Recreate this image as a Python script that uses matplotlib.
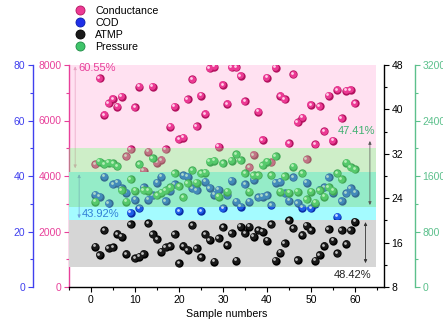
import matplotlib
matplotlib.use("Agg")
import matplotlib.pyplot as plt
from matplotlib.ticker import MultipleLocator
from matplotlib.transforms import offset_copy
from matplotlib.lines import Line2D
import numpy as np

plt.rcParams['font.family'] = ['Liberation Sans', 'DejaVu Sans']
plt.rcParams['font.size'] = 7.5

samples = list(range(1, 61))

conductance = [4430, 7520, 6200, 6620, 6775, 6500, 6860, 4720, 4960, 6475,
               7220, 4190, 4880, 7220, 4480, 4580, 4960, 5780, 6500, 5320,
               5380, 6760, 7495, 5800, 6895, 6235, 7880, 7940, 5060, 7280,
               6595, 7915, 7915, 7605, 6700, 4310, 4760, 6320, 5300, 7545,
               4500, 7905, 6885, 6765, 5180, 7675, 5935, 6100, 4600, 6560,
               5150, 6520, 5620, 6895, 5275, 7100, 6080, 7075, 7100, 6620]

cod = [33.2, 32.5, 39.7, 30.2, 37.1, 37.6, 35.6, 34.0, 26.8, 31.4,
       28.4, 36.0, 31.4, 33.0, 37.6, 39.7, 31.0, 34.7, 37.0, 27.4,
       40.2, 39.8, 35.5, 34.8, 27.4, 37.9, 35.7, 33.3, 35.0, 28.4,
       33.0, 38.3, 30.7, 29.0, 37.1, 30.7, 38.7, 32.3, 32.5, 33.0,
       29.4, 37.6, 37.9, 33.8, 31.1, 39.6, 30.3, 28.6, 37.6, 28.4,
       29.9, 35.0, 36.0, 39.6, 34.0, 25.3, 31.0, 33.8, 35.6, 34.0]

atmp = [15.27, 13.77, 18.27, 14.97, 15.15, 17.55, 17.07, 13.95, 19.35, 13.17,
        13.47, 13.95, 19.47, 17.49, 16.59, 14.37, 15.15, 15.39, 17.49, 12.27,
        15.39, 14.67, 19.17, 14.97, 13.35, 17.49, 16.47, 12.57, 16.77, 18.75,
        15.57, 17.67, 12.75, 18.87, 17.67, 18.87, 17.07, 18.27, 17.97, 16.35,
        19.35, 12.75, 14.19, 15.87, 20.07, 18.57, 12.87, 17.37, 19.05, 18.27,
        12.75, 13.77, 15.39, 18.39, 16.35, 14.07, 18.27, 15.75, 18.27, 19.77]

pressure = [1229, 1806, 1772, 1791, 1782, 1744, 1398, 1229, 1552, 1388,
            1772, 1398, 1388, 1854, 1326, 1359, 1398, 1437, 1638, 1450,
            1292, 1494, 1686, 1504, 1638, 1648, 1806, 1821, 1302, 1782,
            1374, 1821, 1917, 1830, 1638, 1374, 1614, 1614, 1758, 1806,
            1614, 1888, 1374, 1600, 1359, 1734, 1374, 1638, 1264, 1374,
            1215, 1398, 1302, 1437, 1388, 1638, 1552, 1791, 1724, 1696]

series_names = ['Conductance', 'COD', 'ATMP', 'Pressure']

# band limits (in each series' own units)
cond_band = (5000, 8000)
cod_band = (24.1, 41.5)
atmp_band = (11.66, 20.1)
press_band = (1160, 2000)
band_x = (-4.95, 64.7)

pct_labels = ['60.55%', '43.92%', '47.41%', '48.42%']

PINK = '#e8409a'
BLUE = '#4040ee'
GREEN = '#5cc08c'

W, H = 443, 324
fig = plt.figure(figsize=(W / 100, H / 100), dpi=100)
L, R, T, B = 69, 384, 65, 287
ax = fig.add_axes([L / W, 1 - B / H, (R - L) / W, (B - T) / H])
ax_c = ax.twinx()
ax_a = ax.twinx()
ax_p = ax.twinx()

ax.set_xlim(-5, 66.6)
ax.set_ylim(0, 8000)
ax_c.set_ylim(0, 80)
ax_a.set_ylim(8, 48)
ax_p.set_ylim(0, 3200)


def balls(a, x, y, base, dark, light, z=3):
    a.scatter(x, y, s=36, c=dark, linewidths=0, zorder=z)
    t1 = offset_copy(a.transData, fig=fig, x=-0.5, y=0.5, units='dots')
    a.scatter(x, y, s=24, c=base, linewidths=0, zorder=z + 0.1, transform=t1)
    t2 = offset_copy(a.transData, fig=fig, x=-1.4, y=1.4, units='dots')
    a.scatter(x, y, s=4, c=light, linewidths=0, zorder=z + 0.2, transform=t2)


# bands
ax.fill_between(band_x, *cond_band, color='#ffe1f1', lw=0, zorder=1)
ax_c.fill_between(band_x, *cod_band, color='#a4fbff', lw=0, zorder=1)
ax_a.fill_between(band_x, *atmp_band, color='#d6d6d6', lw=0, zorder=1)
ax_p.fill_between(band_x, *press_band, color='#7ed470', alpha=0.38, lw=0, zorder=6)

balls(ax, samples, conductance, '#ec3a94', '#b3125f', '#ffd0ea')
balls(ax_c, samples, cod, '#1f5fe8', '#0a2ea8', '#c8dcff')
balls(ax_a, samples, atmp, '#1a1a1a', '#000000', '#c0c0c0')
balls(ax_p, samples, pressure, '#3fc46a', '#1e8a45', '#d8ffe4')

# spines
for a in (ax, ax_c, ax_a, ax_p):
    for s in a.spines.values():
        s.set_visible(False)
        s.set_linewidth(1.0)

ax.spines['left'].set_visible(True)
ax.spines['left'].set_color(PINK)
ax.spines['bottom'].set_visible(True)
ax.tick_params(axis='y', colors=PINK, which='both')
ax.tick_params(axis='x', colors='black', which='both')

ax_c.yaxis.set_ticks_position('left')
ax_c.yaxis.set_label_position('left')
ax_c.spines['left'].set_visible(True)
ax_c.spines['left'].set_position(('axes', (33 - L) / (R - L)))
ax_c.spines['left'].set_color(BLUE)
ax_c.tick_params(axis='y', colors=BLUE, which='both')

ax_a.spines['right'].set_visible(True)
ax_a.spines['right'].set_color('black')
ax_a.tick_params(axis='y', colors='black', which='both')

ax_p.spines['right'].set_visible(True)
ax_p.spines['right'].set_position(('axes', 1 + (415 - R) / (R - L)))
ax_p.spines['right'].set_color(GREEN)
ax_p.tick_params(axis='y', colors=GREEN, which='both')

for a in (ax, ax_c, ax_a, ax_p):
    a.tick_params(which='major', direction='out', length=3.5, width=0.8, labelsize=7.5, pad=2)
    a.tick_params(which='minor', direction='out', length=2, width=0.8)

ax.xaxis.set_major_locator(MultipleLocator(10))
ax.xaxis.set_minor_locator(MultipleLocator(5))
ax.yaxis.set_major_locator(MultipleLocator(2000))
ax.yaxis.set_minor_locator(MultipleLocator(1000))
ax_c.yaxis.set_major_locator(MultipleLocator(20))
ax_c.yaxis.set_minor_locator(MultipleLocator(10))
ax_a.yaxis.set_major_locator(MultipleLocator(8))
ax_a.yaxis.set_minor_locator(MultipleLocator(4))
ax_p.yaxis.set_major_locator(MultipleLocator(800))
ax_p.yaxis.set_minor_locator(MultipleLocator(400))
ax.tick_params(axis='x', top=False)

ax.set_xlabel('Sample numbers', fontsize=7.7, labelpad=3)

# annotations
arr = '<|-|>,head_length=0.25,head_width=0.12'
ax.annotate('', xy=(-3.6, 7950), xytext=(-3.6, 4280),
            arrowprops=dict(arrowstyle=arr, color='#e9a3c2', lw=0.5, shrinkA=0, shrinkB=0), zorder=8)
ax.text(-2.9, 7881, pct_labels[0], color=PINK, fontsize=8, ha='left', va='center', zorder=9)

ax_c.annotate('', xy=(-2.7, 40.6), xytext=(-2.7, 24.8),
              arrowprops=dict(arrowstyle=arr, color='#6f9fdc', lw=0.5, shrinkA=0, shrinkB=0), zorder=8)
ax_c.text(-2.0, 26.3, pct_labels[1], color='#2f7fd6', fontsize=8, ha='left', va='center', zorder=9)

ax_p.annotate('', xy=(63.4, 2104), xytext=(63.4, 1182),
              arrowprops=dict(arrowstyle=arr, color='#555555', lw=0.5, shrinkA=0, shrinkB=0), zorder=8)
ax_p.text(64.6, 2248, pct_labels[2], color='#3fb070', fontsize=8, ha='right', va='center', zorder=9)

ax_a.annotate('', xy=(62.4, 19.7), xytext=(62.4, 12.3),
              arrowprops=dict(arrowstyle=arr, color='#333333', lw=0.6, shrinkA=0, shrinkB=0), zorder=8)
ax_a.text(63.7, 10.16, pct_labels[3], color='#222222', fontsize=8, ha='right', va='center', zorder=9)

# legend
handles = [
    Line2D([], [], ls='none', marker='o', ms=6.5, mfc='#ec3a94', mec='#b3125f', mew=0.6),
    Line2D([], [], ls='none', marker='o', ms=6.5, mfc='#1f2fe8', mec='#0a1ea8', mew=0.6),
    Line2D([], [], ls='none', marker='o', ms=6.5, mfc='#1a1a1a', mec='#000000', mew=0.6),
    Line2D([], [], ls='none', marker='o', ms=6.5, mfc='#3fc46a', mec='#1e8a45', mew=0.6),
]
fig.legend(handles, series_names, loc='upper left', bbox_to_anchor=(74.8 / W, 1 - 6 / H),
           frameon=False, fontsize=7.7, handlelength=1.0, handletextpad=0.9,
           labelspacing=0.18, borderpad=0, borderaxespad=0)

fig.savefig('out.png', dpi=100)
